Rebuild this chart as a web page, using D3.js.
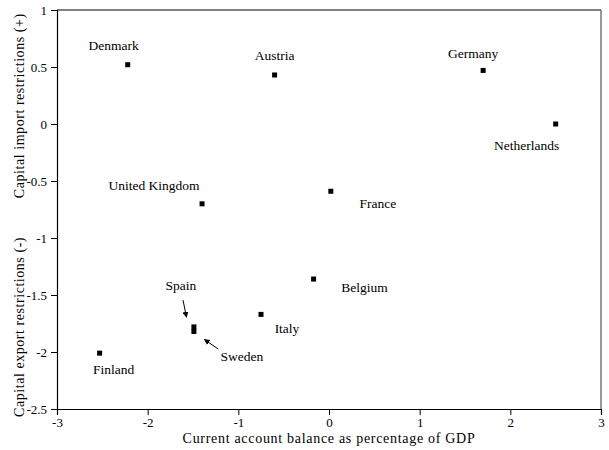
<!DOCTYPE html>
<html>
<head>
<meta charset="utf-8">
<script src="https://cdn.jsdelivr.net/npm/d3@7"></script>
<style>
  html, body { margin: 0; padding: 0; background: #fff; }
  svg { display: block; }
  text { font-family: "Liberation Serif", "Times New Roman", serif; fill: #000; }
</style>
</head>
<body>
<svg id="chart" width="609" height="450"></svg>
<script>
// Countries and their positions: current account balance (% of GDP) vs. capital restriction index
const countries = ["Denmark", "Austria", "Germany", "Netherlands", "United Kingdom", "France",
                   "Belgium", "Italy", "Spain", "Sweden", "Finland"];
const currentAccount = [-2.22, -0.60, 1.70, 2.50, -1.40, 0.02, -0.17, -0.75, -1.49, -1.49, -2.53];
const restrictions   = [0.52, 0.43, 0.47, 0.00, -0.70, -0.59, -1.36, -1.67, -1.78, -1.82, -2.01];

const xTicks = [-3, -2, -1, 0, 1, 2, 3];
const yTicks = [1, 0.5, 0, -0.5, -1, -1.5, -2, -2.5];

// Label placement (pixel offset of text centre/baseline from its point)
const labelOffset = {
  "Denmark": [-14, -15], "Austria": [0, -15], "Germany": [-10, -12],
  "Netherlands": [-29, 26], "United Kingdom": [-48, -14], "France": [47, 17],
  "Belgium": [51, 13], "Italy": [26, 19], "Spain": [-13, -37],
  "Sweden": [48, 30], "Finland": [14, 21]
};

// Pointer arrows for the two overlapping points, in data units [x1, y1, x2, y2]
const arrows = [
  [-1.61, -1.545, -1.572, -1.695],
  [-1.22, -1.975, -1.375, -1.89]
];

const FONT = '"Liberation Serif", "Times New Roman", serif';
const svg = d3.select("#chart");
const margin = { left: 57, right: 8, top: 10, bottom: 41 };
const W = 609, H = 450;

const x = d3.scaleLinear().domain([-3, 3]).range([margin.left, W - margin.right]);
const y = d3.scaleLinear().domain([-2.5, 1]).range([H - margin.bottom, margin.top]);

svg.append("defs").append("marker")
  .attr("id", "arrowhead")
  .attr("viewBox", "0 0 10 10")
  .attr("refX", 9).attr("refY", 5)
  .attr("markerWidth", 6).attr("markerHeight", 6)
  .attr("markerUnits", "userSpaceOnUse")
  .attr("orient", "auto")
  .append("path").attr("d", "M0,0 L10,5 L0,10 Z").attr("fill", "#000");

// Frame: top and right edges
svg.append("line")
  .attr("x1", x(-3)).attr("x2", x(3)).attr("y1", y(1)).attr("y2", y(1))
  .attr("stroke", "#000").attr("stroke-width", 1.2);
svg.append("line")
  .attr("x1", x(3)).attr("x2", x(3)).attr("y1", y(1)).attr("y2", y(-2.5))
  .attr("stroke", "#555").attr("stroke-width", 1.2);

// Axes
const fmt = d => d === 0 ? "0" : String(d);
const xAxis = svg.append("g")
  .attr("transform", `translate(0,${y(-2.5)})`)
  .call(d3.axisBottom(x).tickValues(xTicks).tickSize(6).tickPadding(3).tickFormat(fmt));
const yAxis = svg.append("g")
  .attr("transform", `translate(${x(-3)},0)`)
  .call(d3.axisLeft(y).tickValues(yTicks).tickSize(6).tickPadding(4).tickFormat(fmt));

[xAxis, yAxis].forEach(g => {
  g.attr("font-family", FONT).attr("font-size", 13);
  g.select(".domain").attr("stroke", "#000").attr("stroke-width", 1.2);
  g.selectAll(".tick line").attr("stroke", "#000");
  g.selectAll(".tick text").attr("fill", "#000");
});

// Axis titles
svg.append("text")
  .attr("x", x(0)).attr("y", 443)
  .attr("text-anchor", "middle").style("font-size", "14px").style("letter-spacing", "0.7px")
  .text("Current account balance as percentage of GDP");

svg.append("text")
  .attr("transform", `translate(24,${y(-1.78)}) rotate(-90)`)
  .attr("text-anchor", "middle").style("font-size", "14px").style("letter-spacing", "0.55px")
  .text("Capital export restrictions (-)");
svg.append("text")
  .attr("transform", `translate(24,${y(0.16)}) rotate(-90)`)
  .attr("text-anchor", "middle").style("font-size", "14px").style("letter-spacing", "0.55px")
  .text("Capital import restrictions (+)");

// Points
const data = countries.map((c, i) => ({ name: c, x: currentAccount[i], y: restrictions[i] }));

svg.append("g").selectAll("rect")
  .data(data).enter().append("rect")
  .attr("x", d => x(d.x) - 2.5).attr("y", d => y(d.y) - 2.5)
  .attr("width", 5).attr("height", 5).attr("fill", "#000");

svg.append("g").selectAll("text")
  .data(data).enter().append("text")
  .attr("x", d => x(d.x) + labelOffset[d.name][0])
  .attr("y", d => y(d.y) + labelOffset[d.name][1])
  .attr("text-anchor", "middle").style("font-size", "13.5px")
  .text(d => d.name);

svg.append("g").selectAll("line")
  .data(arrows).enter().append("line")
  .attr("x1", d => x(d[0])).attr("y1", d => y(d[1]))
  .attr("x2", d => x(d[2])).attr("y2", d => y(d[3]))
  .attr("stroke", "#000").attr("stroke-width", 1)
  .attr("marker-end", "url(#arrowhead)");
</script>
</body>
</html>
